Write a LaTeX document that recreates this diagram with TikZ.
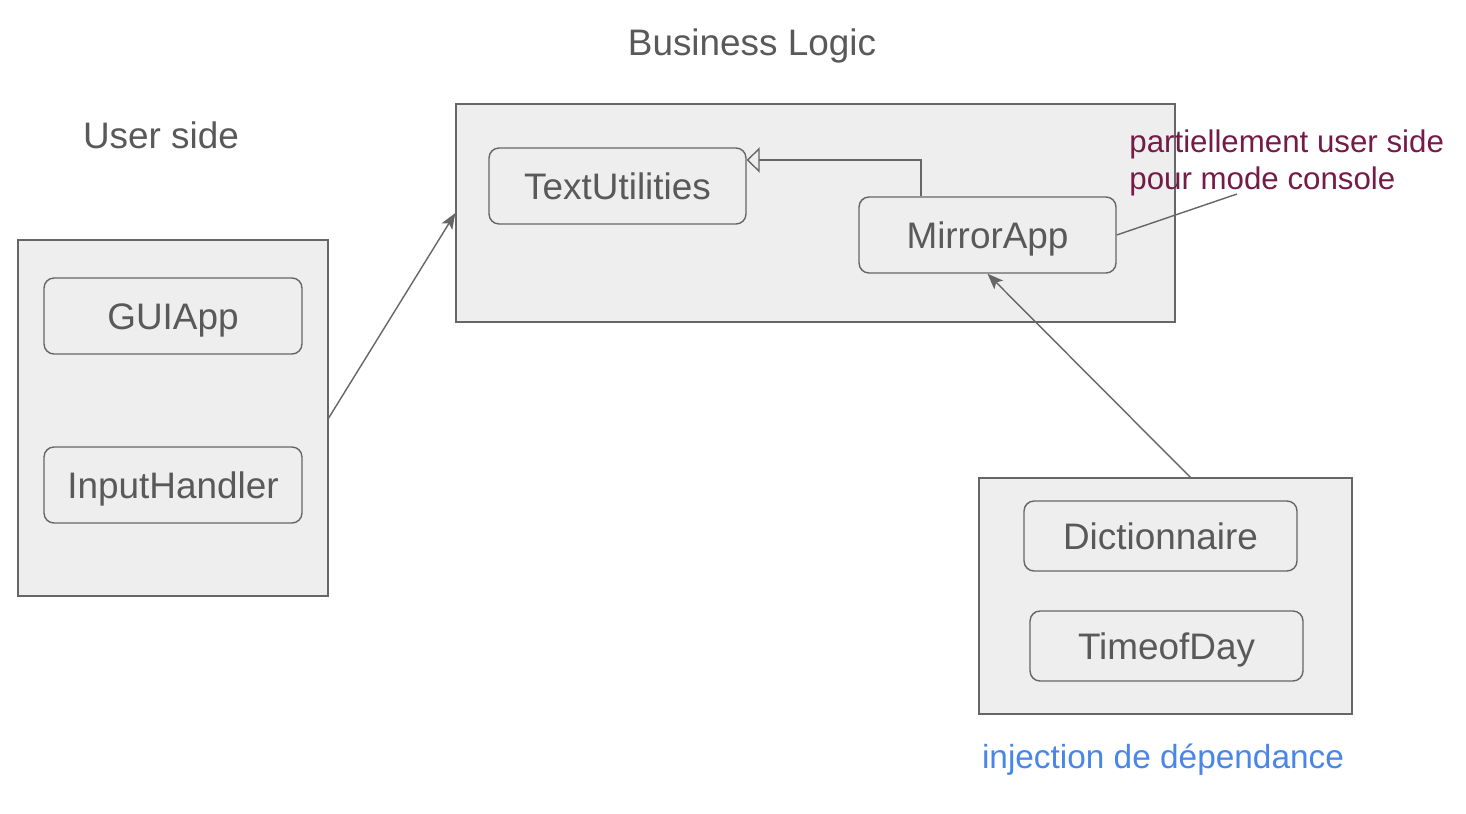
\documentclass[tikz,border=0pt]{standalone}
\usepackage{fontspec}
\setmainfont{Liberation Sans}
\usepackage{xcolor}
\usetikzlibrary{arrows.meta}
\definecolor{boxgray}{HTML}{EEEEEE}
\definecolor{linegray}{HTML}{666666}
\definecolor{textgray}{HTML}{595959}
\definecolor{notepurple}{HTML}{741B47}
\definecolor{noteblue}{HTML}{4A86E8}

\begin{document}
\begin{tikzpicture}[x=0.02cm,y=-0.02cm,
  group/.style={draw=linegray, fill=boxgray, line width=0.8pt, inner sep=0pt},
  cls/.style={draw=linegray, fill=boxgray, line width=0.8pt, rounded corners=0.2cm,
    inner sep=0pt, text=textgray, font=\fontsize{21}{25}\selectfont,
    text height=15pt, text depth=0pt},
  title/.style={text=textgray, font=\fontsize{21}{25}\selectfont},
  dep/.style={draw=linegray, line width=0.8pt, -{Stealth[length=9pt,width=7pt,inset=2pt]}},
  inherit/.style={draw=linegray, line width=0.8pt, -{Triangle[open,length=7.4pt,width=14.5pt]}}]
\useasboundingbox (0,0) rectangle (1466,814);

% titles
\node [title] (bltitle) at (752,46) {Business Logic};
\node [title] (ustitle) at (161,135) {User side};

% user side
\node [group, minimum width=6.2cm, minimum height=7.12cm] (user) at (173,418) {};
\node [cls, minimum width=5.16cm, minimum height=1.52cm] (gui) at (173,316) {GUIApp};
\node [cls, minimum width=5.16cm, minimum height=1.52cm] (input) at (173,485) {InputHandler};

% business logic
\node [group, minimum width=14.38cm, minimum height=4.36cm] (logic) at (815.5,213) {};
\node [cls, minimum width=5.14cm, minimum height=1.52cm] (textu) at (617.5,186) {TextUtilities};
\node [cls, minimum width=5.14cm, minimum height=1.52cm] (mirror) at (987.5,235) {MirrorApp};

% injection
\node [group, minimum width=7.46cm, minimum height=4.72cm] (inject) at (1165.5,596) {};
\node [cls, minimum width=5.46cm, minimum height=1.4cm] (dico) at (1160.5,536) {Dictionnaire};
\node [cls, minimum width=5.46cm, minimum height=1.4cm] (time) at (1166.5,646) {TimeofDay};

% notes
\node [anchor=north west, align=left, inner sep=0pt, text=notepurple,
  font=\fontsize{17.8}{21.5}\selectfont] (note) at (1129,129)
  {partiellement user side\\pour mode console};
\node [text=noteblue, font=\fontsize{19}{23}\selectfont] (injnote) at (1163,760)
  {injection de dépendance};
\coordinate (notetip) at (1237,194);
\coordinate (injtop) at (1191,478);

% connectors
\draw [dep] (user.east) -- (logic.west);
\draw [dep] (injtop) -- (mirror.south);
\draw [inherit] ([xshift=-1.33cm]mirror.north) |- ([yshift=0.52cm]textu.east);
\draw [draw=linegray, line width=0.8pt] (mirror.east) -- (notetip);

\end{tikzpicture}
\end{document}
